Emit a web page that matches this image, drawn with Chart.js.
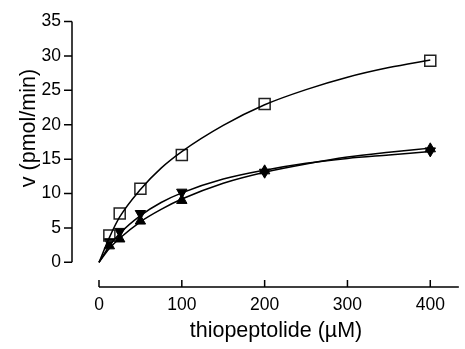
<!DOCTYPE html>
<html>
<head>
<meta charset="utf-8">
<script src="https://cdn.jsdelivr.net/npm/chart.js@4/dist/chart.umd.min.js"></script>
<style>
  html, body { margin: 0; padding: 0; background: #fff; }
  #wrap { width: 465px; height: 349px; }
</style>
</head>
<body>
<div id="wrap"><canvas id="kinetics" width="465" height="349"></canvas></div>
<script>
// 基質濃度 (µM) と測定値
const concentrations = [12.5, 25, 50, 100, 200, 400];
const squareValues = [3.9, 7.1, 10.7, 15.6, 23.0, 29.3];
const upTriangleValues = [2.4, 3.4, 6.0, 9.0, 13.3, 16.5];
const downTriangleValues = [3.0, 4.5, 7.1, 10.2, 13.1, 16.2];

// フィット曲線
const curveX = [0, 12.5, 25, 50, 75, 100, 150, 200, 250, 300, 350, 400];
const squareCurve = [0, 3.6, 6.6, 10.6, 13.7, 16.1, 19.9, 22.9, 25.1, 26.9, 28.3, 29.4];
const upCurve = [0, 2.0, 3.5, 5.9, 7.7, 9.2, 11.5, 13.1, 14.3, 15.3, 16.0, 16.6];
const downCurve = [0, 2.4, 4.2, 6.8, 8.7, 10.1, 12.1, 13.4, 14.4, 15.1, 15.6, 16.1];

// 軸目盛
const xTicks = [0, 100, 200, 300, 400];
const yTicks = [0, 5, 10, 15, 20, 25, 30, 35];
const xTitle = 'thiopeptolide (µM)';
const yTitle = 'v (pmol/min)';

const FONT = 'Liberation Sans, Arial, Helvetica, sans-serif';
const X_AXIS_END = 434.5; // x軸線の右端 (データ単位)

function toPoints(xs, ys) {
    return xs.map((x, i) => ({ x: x, y: ys[i] }));
}

function curveDataset(ys) {
    return {
        type: 'line',
        data: toPoints(curveX, ys),
        borderColor: '#000',
        borderWidth: 1.5,
        pointRadius: 0,
        cubicInterpolationMode: 'monotone',
        fill: false
    };
}

// Prism風の離れた軸を描く
const axesPlugin = {
    id: 'offsetAxes',
    afterDraw(chart) {
        const ctx = chart.ctx;
        const xs = chart.scales.x;
        const ys = chart.scales.y;
        const area = chart.chartArea;
        ctx.save();
        ctx.strokeStyle = '#000';
        ctx.lineWidth = 1.5;

        // y軸
        const yTop = ys.getPixelForValue(yTicks[yTicks.length - 1]);
        const yBottom = ys.getPixelForValue(yTicks[0]);
        ctx.beginPath();
        ctx.moveTo(area.left, yTop);
        ctx.lineTo(area.left, yBottom);
        yTicks.forEach(v => {
            const py = ys.getPixelForValue(v);
            ctx.moveTo(area.left, py);
            ctx.lineTo(area.left - 8, py);
        });
        ctx.stroke();

        // x軸
        const xLeft = xs.getPixelForValue(xTicks[0]);
        ctx.beginPath();
        ctx.moveTo(xLeft, area.bottom);
        ctx.lineTo(xs.getPixelForValue(X_AXIS_END), area.bottom);
        xTicks.forEach(v => {
            const px = xs.getPixelForValue(v);
            ctx.moveTo(px, area.bottom);
            ctx.lineTo(px, area.bottom - 7);
        });
        ctx.stroke();

        // 軸タイトル
        ctx.fillStyle = '#000';
        ctx.font = '21.5px ' + FONT;
        ctx.textAlign = 'center';
        ctx.textBaseline = 'alphabetic';
        ctx.fillText(xTitle, 276, 337);

        ctx.translate(35, 128);
        ctx.rotate(-Math.PI / 2);
        ctx.fillText(yTitle, 0, 0);
        ctx.restore();
    }
};

const chart = new Chart(document.getElementById('kinetics').getContext('2d'), {
    type: 'scatter',
    data: {
        datasets: [
            curveDataset(squareCurve),
            curveDataset(upCurve),
            curveDataset(downCurve),
            {
                data: toPoints(concentrations, squareValues),
                pointStyle: 'rect',
                pointRadius: 7.8,
                borderColor: '#222',
                backgroundColor: 'rgba(255,255,255,0)',
                borderWidth: 1.5
            },
            {
                data: toPoints(concentrations, upTriangleValues),
                pointStyle: 'triangle',
                pointRadius: 6,
                borderColor: '#000',
                backgroundColor: '#000',
                borderWidth: 1
            },
            {
                data: toPoints(concentrations, downTriangleValues),
                pointStyle: 'triangle',
                rotation: 180,
                pointRadius: 6,
                borderColor: '#000',
                backgroundColor: '#000',
                borderWidth: 1
            }
        ]
    },
    options: {
        responsive: false,
        animation: false,
        layout: { padding: { top: 20, right: 2, left: 0, bottom: 0 } },
        plugins: {
            legend: { display: false },
            tooltip: { enabled: false }
        },
        scales: {
            x: {
                type: 'linear',
                min: -32.6,
                max: 430.7,
                grid: { display: false, drawTicks: false },
                border: { display: false },
                ticks: {
                    color: '#000',
                    font: { family: FONT, size: 17.5 },
                    padding: 8,
                    maxRotation: 0
                },
                afterBuildTicks: scale => { scale.ticks = xTicks.map(v => ({ value: v })); },
                afterFit: scale => { scale.height = 62; }
            },
            y: {
                type: 'linear',
                min: -3.58,
                max: 35,
                grid: { display: false, drawTicks: false },
                border: { display: false },
                ticks: {
                    color: '#000',
                    font: { family: FONT, size: 17.5 },
                    padding: 11
                },
                afterBuildTicks: scale => { scale.ticks = yTicks.map(v => ({ value: v })); },
                afterFit: scale => { scale.width = 72; }
            }
        }
    },
    plugins: [axesPlugin]
});
</script>
</body>
</html>
